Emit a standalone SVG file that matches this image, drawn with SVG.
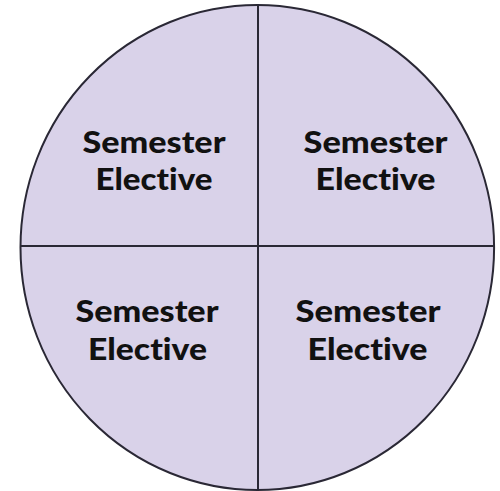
<svg xmlns="http://www.w3.org/2000/svg" width="500" height="491" viewBox="0 0 500 491">
  <style>
    .lbl { font-family: "Lato", "Liberation Sans", Arial, sans-serif; font-weight: 900; font-size: 30px; fill: #111111; text-anchor: middle; font-variant-ligatures: none; font-feature-settings: "liga" 0, "clig" 0, "dlig" 0; }
    .edge { stroke: #2a2835; stroke-width: 2; fill: none; }
  </style>
  <rect width="500" height="491" fill="#ffffff"/>
  <g id="circle">
    <ellipse cx="257.3" cy="247.5" rx="236.8" ry="242.5" fill="#d9d2e9" stroke="#2a2835" stroke-width="2"/>
  </g>
  <g id="connectors">
    <line class="edge" x1="258" y1="5" x2="258" y2="490"/>
    <line class="edge" x1="20.5" y1="246" x2="494" y2="246"/>
  </g>
  <g id="q-top-left">
    <text class="lbl" x="154" y="153" textLength="143" lengthAdjust="spacingAndGlyphs">Semester</text>
    <text class="lbl" x="154" y="190" textLength="117" lengthAdjust="spacingAndGlyphs">Elective</text>
  </g>
  <g id="q-top-right">
    <text class="lbl" x="375.5" y="153" textLength="144" lengthAdjust="spacingAndGlyphs">Semester</text>
    <text class="lbl" x="375.5" y="190" textLength="120" lengthAdjust="spacingAndGlyphs">Elective</text>
  </g>
  <g id="q-bottom-left">
    <text class="lbl" x="147" y="322" textLength="143" lengthAdjust="spacingAndGlyphs">Semester</text>
    <text class="lbl" x="147.5" y="360" textLength="119" lengthAdjust="spacingAndGlyphs">Elective</text>
  </g>
  <g id="q-bottom-right">
    <text class="lbl" x="368" y="322" textLength="145" lengthAdjust="spacingAndGlyphs">Semester</text>
    <text class="lbl" x="367.5" y="360" textLength="120" lengthAdjust="spacingAndGlyphs">Elective</text>
  </g>
</svg>
